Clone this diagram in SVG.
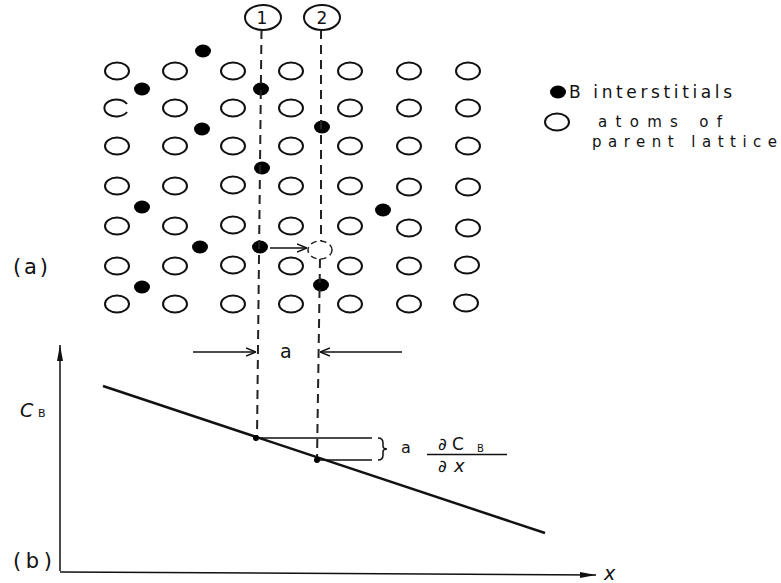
<svg xmlns="http://www.w3.org/2000/svg" width="781" height="583" viewBox="0 0 781 583">
<style>
.o{fill:none;stroke:#111;stroke-width:2}
.f{fill:#000}
.d{stroke:#222;stroke-width:2;stroke-dasharray:9 6;fill:none}
.l{stroke:#111;stroke-width:1.5;fill:none}
.t{font-family:"DejaVu Sans","Liberation Sans",sans-serif;fill:#111}
</style>
<defs>
<marker id="ah" viewBox="0 0 10 10" refX="10" refY="5" markerWidth="10" markerHeight="10" markerUnits="userSpaceOnUse" orient="auto">
<path d="M0,1 L10,5 L0,9" fill="none" stroke="#111" stroke-width="1.5"/>
</marker>
<marker id="ax" viewBox="0 0 16 8" refX="16" refY="4" markerWidth="16" markerHeight="8" markerUnits="userSpaceOnUse" orient="auto">
<path d="M0,1 L16,4 L0,7 Z" fill="#111"/>
</marker>
</defs>
<rect width="781" height="583" fill="#fff"/>
<g id="lattice">
<g id="row1"><ellipse class="o" cx="117" cy="71" rx="12" ry="8.5"/><ellipse class="o" cx="175" cy="71" rx="12" ry="8.5"/><ellipse class="o" cx="233" cy="71" rx="12" ry="8.5"/><ellipse class="o" cx="291" cy="71" rx="12" ry="8.5"/><ellipse class="o" cx="350" cy="71" rx="12" ry="8.5"/><ellipse class="o" cx="409" cy="71" rx="12" ry="8.5"/><ellipse class="o" cx="468" cy="71" rx="12" ry="8.5"/></g>
<g id="row2"><path class="o" d="M127,104 A12,8.5 0 1 0 127,112"/><ellipse class="o" cx="175" cy="108" rx="12" ry="8.5"/><ellipse class="o" cx="233" cy="108" rx="12" ry="8.5"/><ellipse class="o" cx="291" cy="108" rx="12" ry="8.5"/><ellipse class="o" cx="350" cy="108" rx="12" ry="8.5"/><ellipse class="o" cx="409" cy="108" rx="12" ry="8.5"/><ellipse class="o" cx="468" cy="108" rx="12" ry="8.5"/></g>
<g id="row3"><ellipse class="o" cx="117" cy="146" rx="12" ry="8.5"/><ellipse class="o" cx="175" cy="146" rx="12" ry="8.5"/><ellipse class="o" cx="233" cy="146" rx="12" ry="8.5"/><ellipse class="o" cx="291" cy="146" rx="12" ry="8.5"/><ellipse class="o" cx="350" cy="146" rx="12" ry="8.5"/><ellipse class="o" cx="409" cy="146" rx="12" ry="8.5"/><ellipse class="o" cx="468" cy="146" rx="12" ry="8.5"/></g>
<g id="row4"><ellipse class="o" cx="117" cy="186" rx="12" ry="8.5"/><ellipse class="o" cx="175" cy="186" rx="12" ry="8.5"/><ellipse class="o" cx="233" cy="185" rx="12" ry="8.5"/><ellipse class="o" cx="291" cy="186" rx="12" ry="8.5"/><ellipse class="o" cx="350" cy="186" rx="12" ry="8.5"/><ellipse class="o" cx="409" cy="187" rx="12" ry="8.5"/><ellipse class="o" cx="468" cy="187" rx="12" ry="8.5"/></g>
<g id="row5"><ellipse class="o" cx="117" cy="226" rx="12" ry="8.5"/><ellipse class="o" cx="175" cy="226" rx="12" ry="8.5"/><ellipse class="o" cx="233" cy="225" rx="12" ry="8.5"/><ellipse class="o" cx="291" cy="226" rx="12" ry="8.5"/><ellipse class="o" cx="350" cy="226" rx="12" ry="8.5"/><ellipse class="o" cx="409" cy="228" rx="12" ry="8.5"/><ellipse class="o" cx="468" cy="228" rx="12" ry="8.5"/></g>
<g id="row6"><ellipse class="o" cx="117" cy="266" rx="12" ry="8.5"/><ellipse class="o" cx="175" cy="266" rx="12" ry="8.5"/><ellipse class="o" cx="233" cy="265" rx="12" ry="8.5"/><ellipse class="o" cx="291" cy="266" rx="12" ry="8.5"/><ellipse class="o" cx="350" cy="266" rx="12" ry="8.5"/><ellipse class="o" cx="409" cy="266" rx="12" ry="8.5"/><ellipse class="o" cx="467" cy="265" rx="12" ry="8.5"/></g>
<g id="row7"><ellipse class="o" cx="117" cy="304" rx="12" ry="8.5"/><ellipse class="o" cx="175" cy="304" rx="12" ry="8.5"/><ellipse class="o" cx="233" cy="304" rx="12" ry="8.5"/><ellipse class="o" cx="291" cy="304" rx="12" ry="8.5"/><ellipse class="o" cx="350" cy="304" rx="12" ry="8.5"/><ellipse class="o" cx="409" cy="304" rx="12" ry="8.5"/><ellipse class="o" cx="466" cy="303" rx="12" ry="8.5"/></g>
</g>
<g id="interstitials">
<ellipse class="f" cx="203" cy="51" rx="8" ry="6.5"/>
<ellipse class="f" cx="142" cy="89" rx="8" ry="6.5"/>
<ellipse class="f" cx="261" cy="89" rx="8" ry="6.5"/>
<ellipse class="f" cx="202" cy="129" rx="8" ry="6.5"/>
<ellipse class="f" cx="322" cy="127" rx="8" ry="6.5"/>
<ellipse class="f" cx="262" cy="168" rx="8" ry="6.5"/>
<ellipse class="f" cx="142" cy="207" rx="8" ry="6.5"/>
<ellipse class="f" cx="383" cy="210" rx="8" ry="6.5"/>
<ellipse class="f" cx="200" cy="247" rx="8" ry="6.5"/>
<ellipse class="f" cx="260" cy="247" rx="8" ry="6.5"/>
<ellipse class="f" cx="321" cy="285" rx="8" ry="6.5"/>
<ellipse class="f" cx="142" cy="287" rx="8" ry="6.5"/>
<ellipse cx="320" cy="250" rx="12" ry="9" fill="none" stroke="#222" stroke-width="1.5" stroke-dasharray="6 4"/>
</g>
<g id="plane1"><ellipse class="o" cx="263" cy="17.5" rx="18" ry="12.5" stroke-width="1.5"/><text class="t" x="262" y="24" font-size="17" text-anchor="middle">1</text></g>
<g id="plane2"><ellipse class="o" cx="322" cy="17.5" rx="18" ry="12.5" stroke-width="1.5"/><text class="t" x="322" y="24" font-size="17" text-anchor="middle">2</text></g>
<g id="connectors">
<line class="d" x1="261.5" y1="30" x2="257" y2="438"/>
<line class="d" x1="321" y1="30" x2="321" y2="241"/>
<line class="d" x1="320" y1="259" x2="317" y2="460"/>
<line class="l" x1="270" y1="248" x2="307" y2="248" marker-end="url(#ah)"/>
<line class="l" x1="193" y1="352" x2="256" y2="352" marker-end="url(#ah)"/>
<line class="l" x1="402" y1="352" x2="320" y2="352" marker-end="url(#ah)"/>
<line class="l" x1="60" y1="571" x2="60" y2="345" stroke-width="2" marker-end="url(#ax)"/>
<line class="l" x1="60" y1="572" x2="596" y2="575" stroke-width="2" marker-end="url(#ax)"/>
<line x1="103" y1="386" x2="545" y2="533" stroke="#111" stroke-width="2.5"/>
<line class="l" x1="256" y1="438" x2="372" y2="438"/>
<line class="l" x1="317" y1="460" x2="372" y2="460"/>
<path class="l" d="M378,438 Q383,438 383,443 L383,446 Q383,449 387,449 Q383,449 383,452 L383,455 Q383,460 378,460"/>
<circle class="f" cx="256" cy="438" r="3"/>
<circle class="f" cx="317" cy="460" r="3"/>
<line class="l" x1="427" y1="454.5" x2="507" y2="454.5"/>
</g>
<g id="labels">
<ellipse class="f" cx="558" cy="92" rx="8" ry="6.5"/>
<text class="t" x="569" y="98" font-size="17" textLength="163">B interstitials</text>
<ellipse class="o" cx="557" cy="122" rx="12" ry="8.5"/>
<text class="t" x="598" y="127" font-size="15" textLength="124">atoms  of</text>
<text class="t" x="592" y="147" font-size="15" textLength="185">parent  lattice</text>
<text class="t" x="13" y="274" font-size="21" textLength="35">(a)</text>
<text class="t" x="13" y="568" font-size="21" textLength="39">(b)</text>
<text class="t" x="20" y="417" font-size="19" font-style="italic">C</text>
<text class="t" x="38" y="417" font-size="11" textLength="12">B</text>
<text class="t" x="604" y="580" font-size="19" font-style="italic">x</text>
<text class="t" x="280" y="358" font-size="19">a</text>
<text class="t" x="401" y="453" font-size="16">a</text>
<text class="t" x="438" y="450" font-size="17">∂</text>
<text class="t" x="452" y="450" font-size="17">C</text>
<text class="t" x="477" y="452" font-size="10" textLength="11">B</text>
<text class="t" x="438" y="472" font-size="17">∂</text>
<text class="t" x="454" y="472" font-size="18" font-style="italic">x</text>
</g>
</svg>
